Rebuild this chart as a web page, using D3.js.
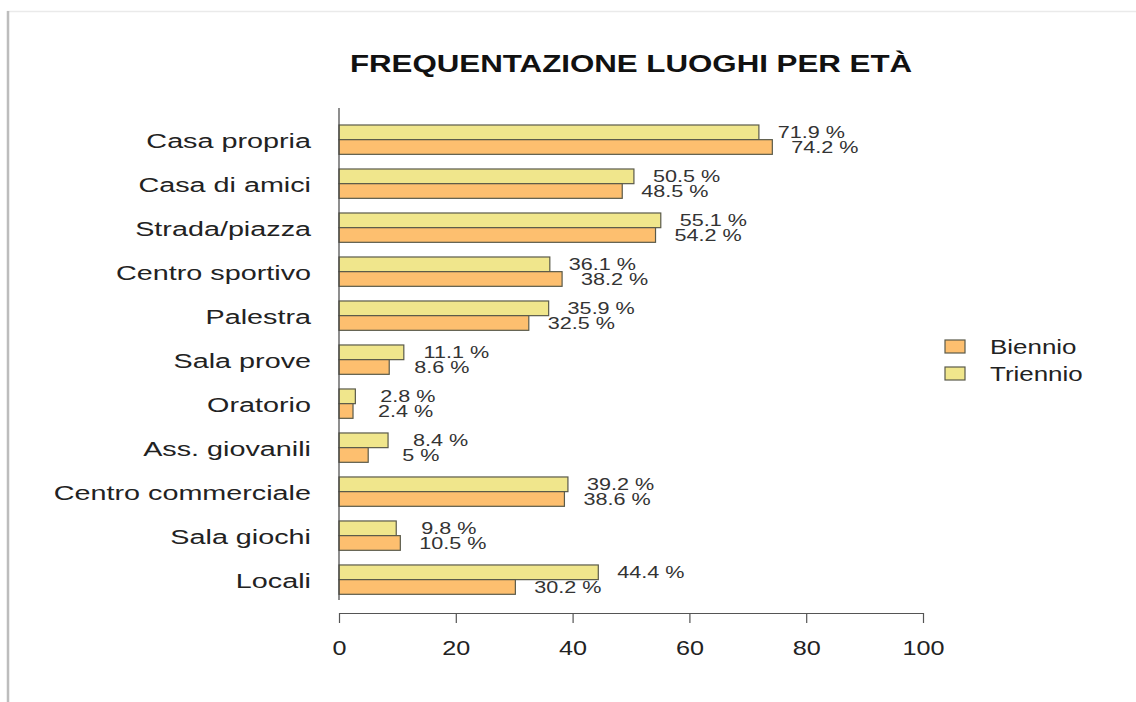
<!DOCTYPE html>
<html>
<head>
<meta charset="utf-8">
<script src="https://cdn.jsdelivr.net/npm/d3@7"></script>
<style>
  body { margin: 0; background: #fff; }
  text { font-family: "Liberation Sans", Arial, sans-serif; }
</style>
</head>
<body>
<div id="chart"></div>
<script>
// data
var categories = ["Casa propria", "Casa di amici", "Strada/piazza", "Centro sportivo", "Palestra",
                  "Sala prove", "Oratorio", "Ass. giovanili", "Centro commerciale", "Sala giochi", "Locali"];
var triennio = [71.9, 50.5, 55.1, 36.1, 35.9, 11.1, 2.8, 8.4, 39.2, 9.8, 44.4];
var biennio  = [74.2, 48.5, 54.2, 38.2, 32.5, 8.6, 2.4, 5, 38.6, 10.5, 30.2];
var series = ["Triennio", "Biennio"];         // top bar, bottom bar in each group
var legendItems = ["Biennio", "Triennio"];
var xTicks = [0, 20, 40, 60, 80, 100];
var title = "FREQUENTAZIONE LUOGHI PER ETÀ";

var W = 1136, H = 702;
var colors = { "Biennio": "#FDBF6F", "Triennio": "#F0E68C" };

var svg = d3.select("#chart").append("svg")
    .attr("width", W)
    .attr("height", H);

// faint frame like the screenshot
svg.append("line").attr("x1", 7).attr("x2", W).attr("y1", 11.5).attr("y2", 11.5)
    .attr("stroke", "#eaeaea").attr("stroke-width", 1.5);
svg.append("line").attr("x1", 8).attr("x2", 8).attr("y1", 11).attr("y2", H)
    .attr("stroke", "#bdbdbd").attr("stroke-width", 2.5);

// scales
var x = d3.scaleLinear().domain([0, 100]).range([339, 923]);
var y = d3.scaleBand().domain(categories).range([125, 594.3])
    .paddingInner(1 / 3).paddingOuter(0);
var ySub = d3.scaleBand().domain(series).range([0, y.bandwidth()]);

var rows = categories.map((c, i) => ({ cat: c, Triennio: triennio[i], Biennio: biennio[i] }));

// title
svg.append("text")
    .attr("transform", "translate(631,72) scale(1.36,1)")
    .attr("text-anchor", "middle")
    .attr("font-size", 23)
    .attr("font-weight", "bold")
    .attr("fill", "#111")
    .text(title);

// bars
var groups = svg.selectAll(".grp")
    .data(rows)
    .enter()
    .append("g")
    .attr("class", "grp")
    .attr("transform", d => "translate(0," + y(d.cat) + ")");

groups.selectAll("rect")
    .data(d => series.map(s => ({ s: s, v: d[s] })))
    .enter()
    .append("rect")
    .attr("x", x(0))
    .attr("y", d => ySub(d.s))
    .attr("width", d => x(d.v) - x(0))
    .attr("height", ySub.bandwidth())
    .attr("fill", d => colors[d.s])
    .attr("stroke", "#5a5a4a")
    .attr("stroke-width", 1.2);

// value labels, centred 9 units past the bar end
groups.selectAll(".val")
    .data(d => series.map(s => ({ s: s, v: d[s] })))
    .enter()
    .append("text")
    .attr("class", "val")
    .attr("transform", d => "translate(" + x(d.v + 9) + "," + (ySub(d.s) + ySub.bandwidth() / 2 + 6) + ") scale(1.27,1)")
    .attr("text-anchor", "middle")
    .attr("font-size", 17)
    .attr("fill", "#333")
    .text(d => d.v + " %");

// category labels
svg.selectAll(".cat")
    .data(categories)
    .enter()
    .append("text")
    .attr("class", "cat")
    .attr("transform", d => "translate(311," + (y(d) + y.bandwidth() / 2 + 8) + ") scale(1.37,1)")
    .attr("text-anchor", "end")
    .attr("font-size", 21)
    .attr("fill", "#222")
    .text(d => d);

// left axis line
svg.append("line")
    .attr("x1", x(0)).attr("x2", x(0))
    .attr("y1", 108).attr("y2", 600)
    .attr("stroke", "#444").attr("stroke-width", 1.2);

// bottom axis
var gX = svg.append("g")
    .attr("transform", "translate(0,613)")
    .call(d3.axisBottom(x).tickValues(xTicks).tickSize(10).tickSizeOuter(0).tickPadding(17));
gX.select(".domain").attr("stroke", "#555").attr("stroke-width", 1.2);
gX.selectAll(".tick line").attr("stroke", "#555").attr("stroke-width", 1.2);
gX.selectAll(".tick text")
    .attr("font-size", 21)
    .attr("font-family", "Liberation Sans, Arial, sans-serif")
    .attr("fill", "#222")
    .attr("transform", "scale(1.2,1)");

// legend
var leg = svg.selectAll(".leg")
    .data(legendItems)
    .enter()
    .append("g")
    .attr("class", "leg")
    .attr("transform", (d, i) => "translate(945," + (340 + i * 27) + ")");
leg.append("rect")
    .attr("width", 20).attr("height", 13)
    .attr("fill", d => colors[d])
    .attr("stroke", "#5a5a4a").attr("stroke-width", 1.2);
leg.append("text")
    .attr("transform", "translate(45,14) scale(1.33,1)")
    .attr("font-size", 19.5)
    .attr("fill", "#222")
    .text(d => d);
</script>
</body>
</html>
